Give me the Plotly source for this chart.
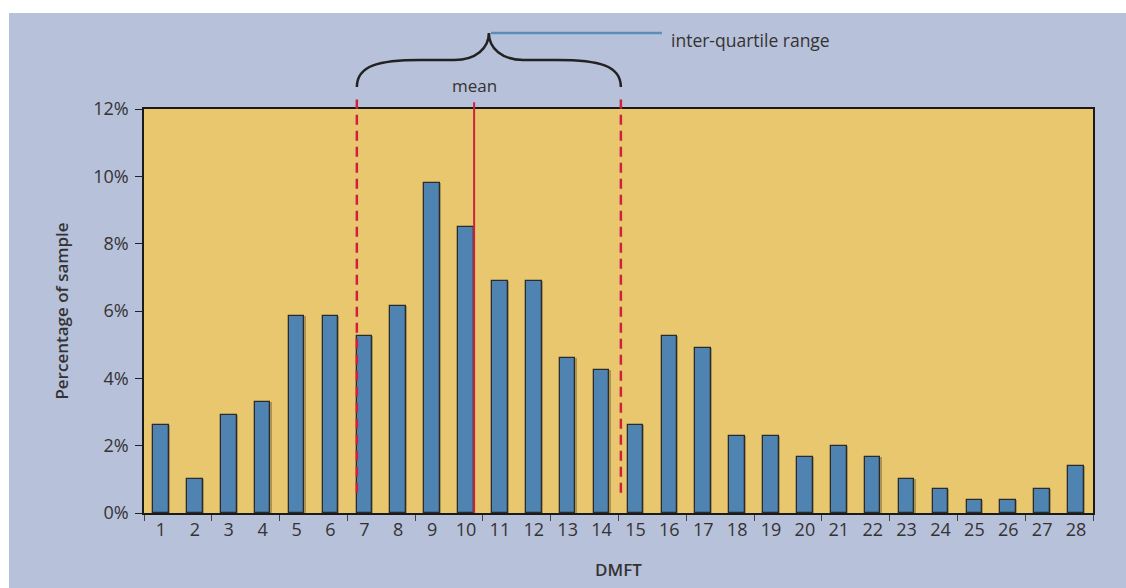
import plotly.graph_objects as go

# ---- data ----
dmft = list(range(1, 29))
pct = [2.6, 1.0, 2.9, 3.3, 5.85, 5.85, 5.25, 6.15, 9.8, 8.5, 6.9, 6.9, 4.6, 4.25,
       2.6, 5.25, 4.9, 2.3, 2.3, 1.65, 2.0, 1.65, 1.0, 0.7, 0.4, 0.4, 0.7, 1.4]
q1 = 6.78
q3 = 14.57
mean_val = 10.24
y_ticks = [0, 2, 4, 6, 8, 10, 12]
y_labels = [f"{v}%" for v in y_ticks]
y_max = 12

BG = "#B8C1DA"
PLOT_BG = "#E8C76F"
BAR = "#4F83B2"
RED = "#D0203A"
TXT = "#333333"
FONT = "Open Sans"

fig = go.Figure()

# shadow under bars
fig.add_trace(go.Bar(x=dmft, y=pct, width=0.46, offset=-0.23 + 0.035,
                     marker=dict(color="rgba(80,70,40,0.4)", line=dict(width=0)),
                     hoverinfo="skip", showlegend=False))
fig.add_trace(go.Bar(x=dmft, y=pct, width=0.46, offset=-0.23,
                     marker=dict(color=BAR, line=dict(color="#2b2b2b", width=1.3)),
                     showlegend=False))

shapes = []
# white strips outside the blue panel
shapes.append(dict(type="rect", xref="paper", yref="paper", x0=-0.2, x1=1.1,
                   y0=(513 - 13) / 404, y1=1.3, fillcolor="white", line=dict(width=0), layer="below"))
shapes.append(dict(type="rect", xref="paper", yref="paper", x0=-0.2, x1=(9 - 144) / 949,
                   y0=-0.3, y1=1.3, fillcolor="white", line=dict(width=0), layer="below"))

# quartile dashed lines and mean line
for q in (q1, q3):
    shapes.append(dict(type="line", xref="x", yref="paper", x0=q, x1=q,
                       y0=0.6 / y_max, y1=12.28 / y_max,
                       line=dict(color=RED, width=2.5, dash="10px,6px")))
shapes.append(dict(type="line", xref="x", yref="paper", x0=mean_val, x1=mean_val,
                   y0=0, y1=12.2 / y_max, line=dict(color=RED, width=2)))

# curly brace over the inter-quartile range
c = (q1 + q3) / 2
h = (q3 - q1) / 2
def P(fx, yp):
    return f"{fx:.4f},{yp:.4f}"
yE, yM, yM2, yN, yT = 1.0545, 1.1213, 1.108, 1.15, 1.188
path = ("M " + P(q1, yE) +
        " C " + P(q1, yM2) + " " + P(q1 + 0.17 * h, yM) + " " + P(q1 + 0.48 * h, yM) +
        " L " + P(q1 + 0.74 * h, yM) +
        " C " + P(q1 + 0.9 * h, yM) + " " + P(c, yN) + " " + P(c, yT) +
        " C " + P(c, yN) + " " + P(q3 - 0.9 * h, yM) + " " + P(q3 - 0.74 * h, yM) +
        " L " + P(q3 - 0.48 * h, yM) +
        " C " + P(q3 - 0.17 * h, yM) + " " + P(q3, yM2) + " " + P(q3, yE))
shapes.append(dict(type="path", xref="x", yref="paper", path=path,
                   line=dict(color="#222222", width=2.5)))
# pointer line to label
shapes.append(dict(type="line", xref="x", yref="paper", x0=c + 0.06, x1=15.78,
                   y0=yT, y1=yT, line=dict(color="#5A8DBA", width=2.5)))

annotations = [
    dict(text="inter-quartile range", xref="x", yref="paper", x=16.0, y=1.172,
         xanchor="left", yanchor="middle", showarrow=False,
         font=dict(family=FONT, size=17.5, color=TXT)),
    dict(text="mean", xref="x", yref="paper", x=mean_val, y=1.059,
         xanchor="center", yanchor="middle", showarrow=False,
         font=dict(family=FONT, size=17, color=TXT)),
]

fig.update_layout(
    width=1126, height=588,
    margin=dict(l=144, r=33, t=109, b=75),
    paper_bgcolor=BG, plot_bgcolor=PLOT_BG,
    barmode="overlay", bargap=0,
    shapes=shapes, annotations=annotations,
    font=dict(family=FONT, size=18, color=TXT),
    showlegend=False,
)
fig.update_xaxes(
    range=[0.5, 28.5], tickmode="array", tickvals=dmft, ticktext=[str(v) for v in dmft],
    ticks="", showgrid=False, zeroline=False,
    showline=True, linecolor="#1a1a1a", linewidth=1.5, mirror=True,
    minor=dict(tickmode="linear", tick0=0.5, dtick=2, ticks="outside", ticklen=6,
               tickwidth=1.2, tickcolor="#444444", showgrid=False),
    tickfont=dict(family=FONT, size=18, color=TXT),
    title=dict(text="DMFT", font=dict(family=FONT, size=17, color=TXT, weight=600), standoff=24),
)
fig.update_yaxes(
    range=[0, y_max], tickmode="array", tickvals=y_ticks, ticktext=y_labels,
    ticks="outside", ticklen=7, tickwidth=1.2, tickcolor="#222222",
    ticklabelstandoff=3,
    showgrid=False, zeroline=False,
    showline=True, linecolor="#1a1a1a", linewidth=1.5, mirror=True,
    tickfont=dict(family=FONT, size=18, color=TXT),
    title=dict(text="Percentage of sample", font=dict(family=FONT, size=17, color=TXT, weight=600), standoff=20),
)

fig.write_html("out.html", config={"displayModeBar": False},
               post_script="document.body.style.margin='0px';document.body.style.padding='0px';")
